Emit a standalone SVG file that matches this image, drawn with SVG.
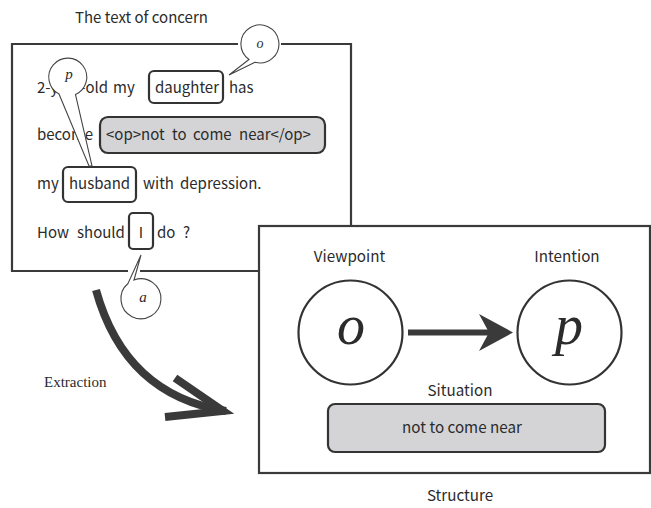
<svg xmlns="http://www.w3.org/2000/svg" width="651" height="508" viewBox="0 0 651 508">
<style>
.t{font-family:"Noto Sans CJK JP","Noto Sans",sans-serif;font-size:15px;fill:#2b2b2b}
.lbl{font-family:"Noto Sans CJK JP","Noto Sans",sans-serif;font-size:15.2px;fill:#2b2b2b;text-anchor:middle}
.it{font-family:"Liberation Serif","Times New Roman",serif;font-style:italic;fill:#2b2b2b;text-anchor:middle}
.frame{fill:none;stroke:#3a3a3a;stroke-width:2.2}
.box{fill:none;stroke:#333;stroke-width:2.2}
.gbox{fill:#d4d4d6;stroke:#333;stroke-width:2.2}
.bal{fill:#fff;stroke:#444;stroke-width:1.1}
.node{fill:#fff;stroke:#333;stroke-width:2.2}
</style>
<rect width="651" height="508" fill="#fff"/>

<g id="source-text">
<text class="t" x="75" y="23">The text of concern</text>
<path class="frame" d="M238,44 H12 V271 H128 M140,271 H259 M281,44 H351 V226"/>
<text class="t" x="37" y="93">2-year-old</text>
<text class="t" x="113" y="93">my</text>
<rect class="box" x="149" y="71" width="74" height="32" rx="5"/>
<text class="t" x="155" y="93">daughter</text>
<text class="t" x="229" y="93">has</text>
<text class="t" x="37" y="140">become</text>
<rect class="gbox" x="100" y="117" width="225" height="36" rx="8"/>
<text class="t" x="106" y="140">&lt;op&gt;not</text>
<text class="t" x="172" y="140">to</text>
<text class="t" x="193" y="140">come</text>
<text class="t" x="239" y="140">near&lt;/op&gt;</text>
<text class="t" x="37" y="189">my</text>
<rect class="box" x="63" y="167" width="73" height="35" rx="5"/>
<text class="t" x="69" y="189">husband</text>
<text class="t" x="143" y="189">with</text>
<text class="t" x="180" y="189">depression.</text>
<text class="t" x="37" y="238">How</text>
<text class="t" x="77" y="238">should</text>
<rect class="box" x="129" y="213" width="24" height="36" rx="4"/>
<text class="t" x="141" y="238" style="text-anchor:middle">I</text>
<text class="t" x="157" y="238">do</text>
<text class="t" x="183" y="238">?</text>
</g>

<g id="balloon-o">
<path class="bal" d="M255,62.3 L229,75 L249,59.5 A19 19 0 1 1 255,62.3 Z"/>
<text class="it" x="260" y="48" style="font-size:14px">o</text>
</g>
<g id="balloon-p">
<path class="bal" d="M59,94 L89,166 L92,166 L75.5,94.5 A19 19 0 1 0 59,94 Z"/>
<text class="it" x="69" y="79" style="font-size:15px">p</text>
</g>
<g id="balloon-a">
<path class="bal" d="M134,280 L141,255 L128,283.5 A20 20 0 1 0 134,280 Z"/>
<text class="it" x="143" y="302" style="font-size:15px">a</text>
</g>

<g id="extraction">
<text x="44" y="387" style="font-family:'Liberation Serif','Times New Roman',serif;font-size:15px;fill:#2b2b2b">Extraction</text>
</g>

<g id="structure">
<rect x="259" y="226" width="391" height="247" fill="#fff" stroke="#3a3a3a" stroke-width="2.2"/>
<text class="lbl" x="460" y="501">Structure</text>
</g>

<g id="viewpoint">
<text class="lbl" x="349.5" y="262">Viewpoint</text>
<circle class="node" cx="350.5" cy="332.5" r="52"/>
<text class="it" x="351" y="344" style="font-size:56px">o</text>
</g>
<g id="intention">
<text class="lbl" x="567" y="262">Intention</text>
<circle class="node" cx="569.5" cy="332.5" r="52"/>
<text class="it" x="569" y="344" style="font-size:56px">p</text>
</g>
<g id="situation">
<text class="lbl" x="460" y="396">Situation</text>
<rect class="gbox" x="328" y="404" width="277" height="48" rx="7"/>
<text class="lbl" x="462" y="433">not to come near</text>
</g>

<g id="connectors">
<line x1="408" y1="332.5" x2="492" y2="332.5" stroke="#3a3a3a" stroke-width="6"/>
<polygon points="479,314 513,332.5 479,351 489,332.5" fill="#3a3a3a"/>
<path d="M96,290 Q125,395 226,411" fill="none" stroke="#3a3a3a" stroke-width="8"/>
<polyline points="175,378 223,411 165,417" fill="none" stroke="#3a3a3a" stroke-width="8" stroke-linejoin="miter" stroke-miterlimit="6"/>
</g>
</svg>
